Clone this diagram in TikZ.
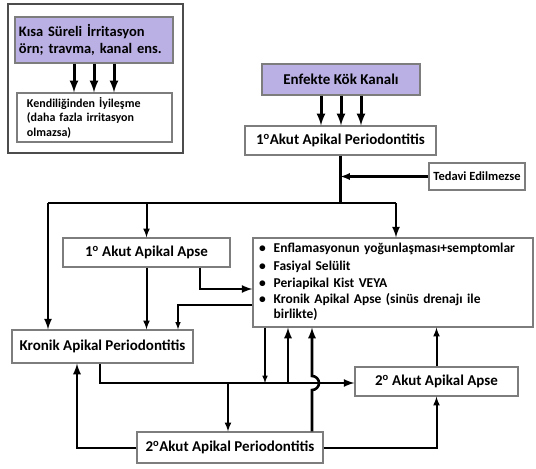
\documentclass[tikz,border=0pt]{standalone}
\usepackage{fontspec}
\setmainfont{Carlito}
\definecolor{lila}{RGB}{186,176,228}
\definecolor{rim}{RGB}{125,125,125}
\begin{document}
\begin{tikzpicture}[x=1pt, y=-1pt, box/.style={draw=rim, line width=1.3pt, fill=white, inner sep=2pt, font=\bfseries\fontsize{15}{17}\selectfont}, cause/.style={box, fill=lila}, small/.style={font=\bfseries\fontsize{12}{14.5}\selectfont}, link/.style={line width=1.5pt}, arr/.style={line width=1.5pt, -latex}, fat/.style={line width=2.6pt}, fatarr/.style={line width=2.6pt, -latex}]
		\useasboundingbox (0,0) rectangle (536,469);
		\draw [line width=2.5pt, black!70] (8,4) rectangle (183,153);

		\node (irr)[cause, font=\bfseries\fontsize{14.5}{17.5}\selectfont, minimum width=158pt, minimum height=46pt, text width=150pt, align=left] at (94,40){Kısa Süreli İrritasyon\\örn; travma, kanal ens.};
		\node (heal)[box, small, minimum width=155pt, minimum height=49pt, text width=135pt, align=left] at (94.5,117.5){Kendiliğinden İyileşme\\(daha fazla irritasyon\\olmazsa)};

		\node (kok)[cause, minimum width=158pt, minimum height=31pt] at (341,79.5){Enfekte Kök Kanalı};
		\node (akut1)[box, minimum width=191pt, minimum height=29pt] at (340.5,140.5){1\textsuperscript{o}Akut Apikal Periodontitis};
		\node (tedavi)[box, font=\bfseries\fontsize{12.5}{14}\selectfont, minimum width=96pt, minimum height=27pt] at (477,176.5){Tedavi Edilmezse};

		\node (apse1)[box, minimum width=167pt, minimum height=29pt] at (146.5,252.5){1\textsuperscript{o} Akut Apikal Apse};
		\node (enf)[box, font=\bfseries\fontsize{13.5}{15.5}\selectfont, minimum width=280pt, minimum height=89pt, text width=268pt, align=left] at (393,282.5){%
			\begin{tabular}{@{}l@{\hspace{8pt}}l@{}}
			\textbullet & Enflamasyonun yoğunlaşması+semptomlar\\[2pt]
			\textbullet & Fasiyal Selülit\\[2pt]
			\textbullet & Periapikal Kist VEYA\\
			\textbullet & Kronik Apikal Apse (sinüs drenajı ile\\
			 & birlikte)
			\end{tabular}};

		\node (kronik)[box, minimum width=181pt, minimum height=33pt] at (102.5,346.5){Kronik Apikal Periodontitis};
		\node (apse2)[box, minimum width=163pt, minimum height=29pt] at (436.5,381.5){2\textsuperscript{o} Akut Apikal Apse};
		\node (akut2)[box, minimum width=186pt, minimum height=31pt] at (230,447.5){2\textsuperscript{o}Akut Apikal Periodontitis};

		\coordinate (tl) at (48,203);
		\coordinate (tr) at (396,203);
		\coordinate (mid) at (228,383);

		% top
		\foreach \dx in {-20,0,20} {
			\draw [line width=3pt, -latex]([xshift=\dx pt]irr.south) -- ([xshift=\dx pt]irr.south |- heal.north);
			\draw [line width=3pt, -latex]([xshift=\dx pt]kok.south) -- ([xshift=\dx pt]kok.south |- akut1.north);
		}
		\draw [fat](akut1.south) -- (akut1.south |- tl);
		\draw [line width=2.2pt, -latex](tedavi.west) -- (akut1.south |- tedavi.west);
		\draw [fat](tl) -- (tr);
		\draw [fatarr](tl) -- (tl |- kronik.north);
		\draw [line width=2pt, -latex](apse1.north |- tl) -- (apse1.north);
		\draw [fatarr](tr) -- (tr |- enf.north);

		% middle
		\draw [line width=2pt, -latex](apse1.south) -- (apse1.south |- kronik.north);
		\draw [fatarr]([xshift=53.5pt]apse1.south) |- ([yshift=-6.5pt]enf.west);
		\draw [arr]([yshift=-22.5pt]enf.west) -| ([xshift=75.5pt]kronik.north);

		% bottom
		\draw [fatarr]([xshift=-2.5pt]kronik.south) |- ([yshift=-1.5pt]apse2.west);
		\draw [line width=2pt, -latex](mid) -- (mid |- akut2.north);
		\draw [arr]([xshift=-128pt]enf.south) -- ([xshift=-128pt]enf.south |- mid);
		\draw [fatarr]([xshift=-105pt]enf.south |- mid) -- ([xshift=-105pt]enf.south);
		\draw [fatarr]([xshift=82pt]akut2.north) -- (312,390) arc[start angle=-90, end angle=90, radius=7pt] -- ([xshift=-81pt]enf.south);
		\draw [line width=2pt, -latex](apse2.north) -- (apse2.north |- enf.south);
		\draw [fatarr]([yshift=-0.5pt]akut2.west) -| ([xshift=-25.5pt]kronik.south);
		\draw [line width=2pt, -latex]([yshift=-0.5pt]akut2.east) -| (apse2.south);
	\end{tikzpicture}
\end{document}
